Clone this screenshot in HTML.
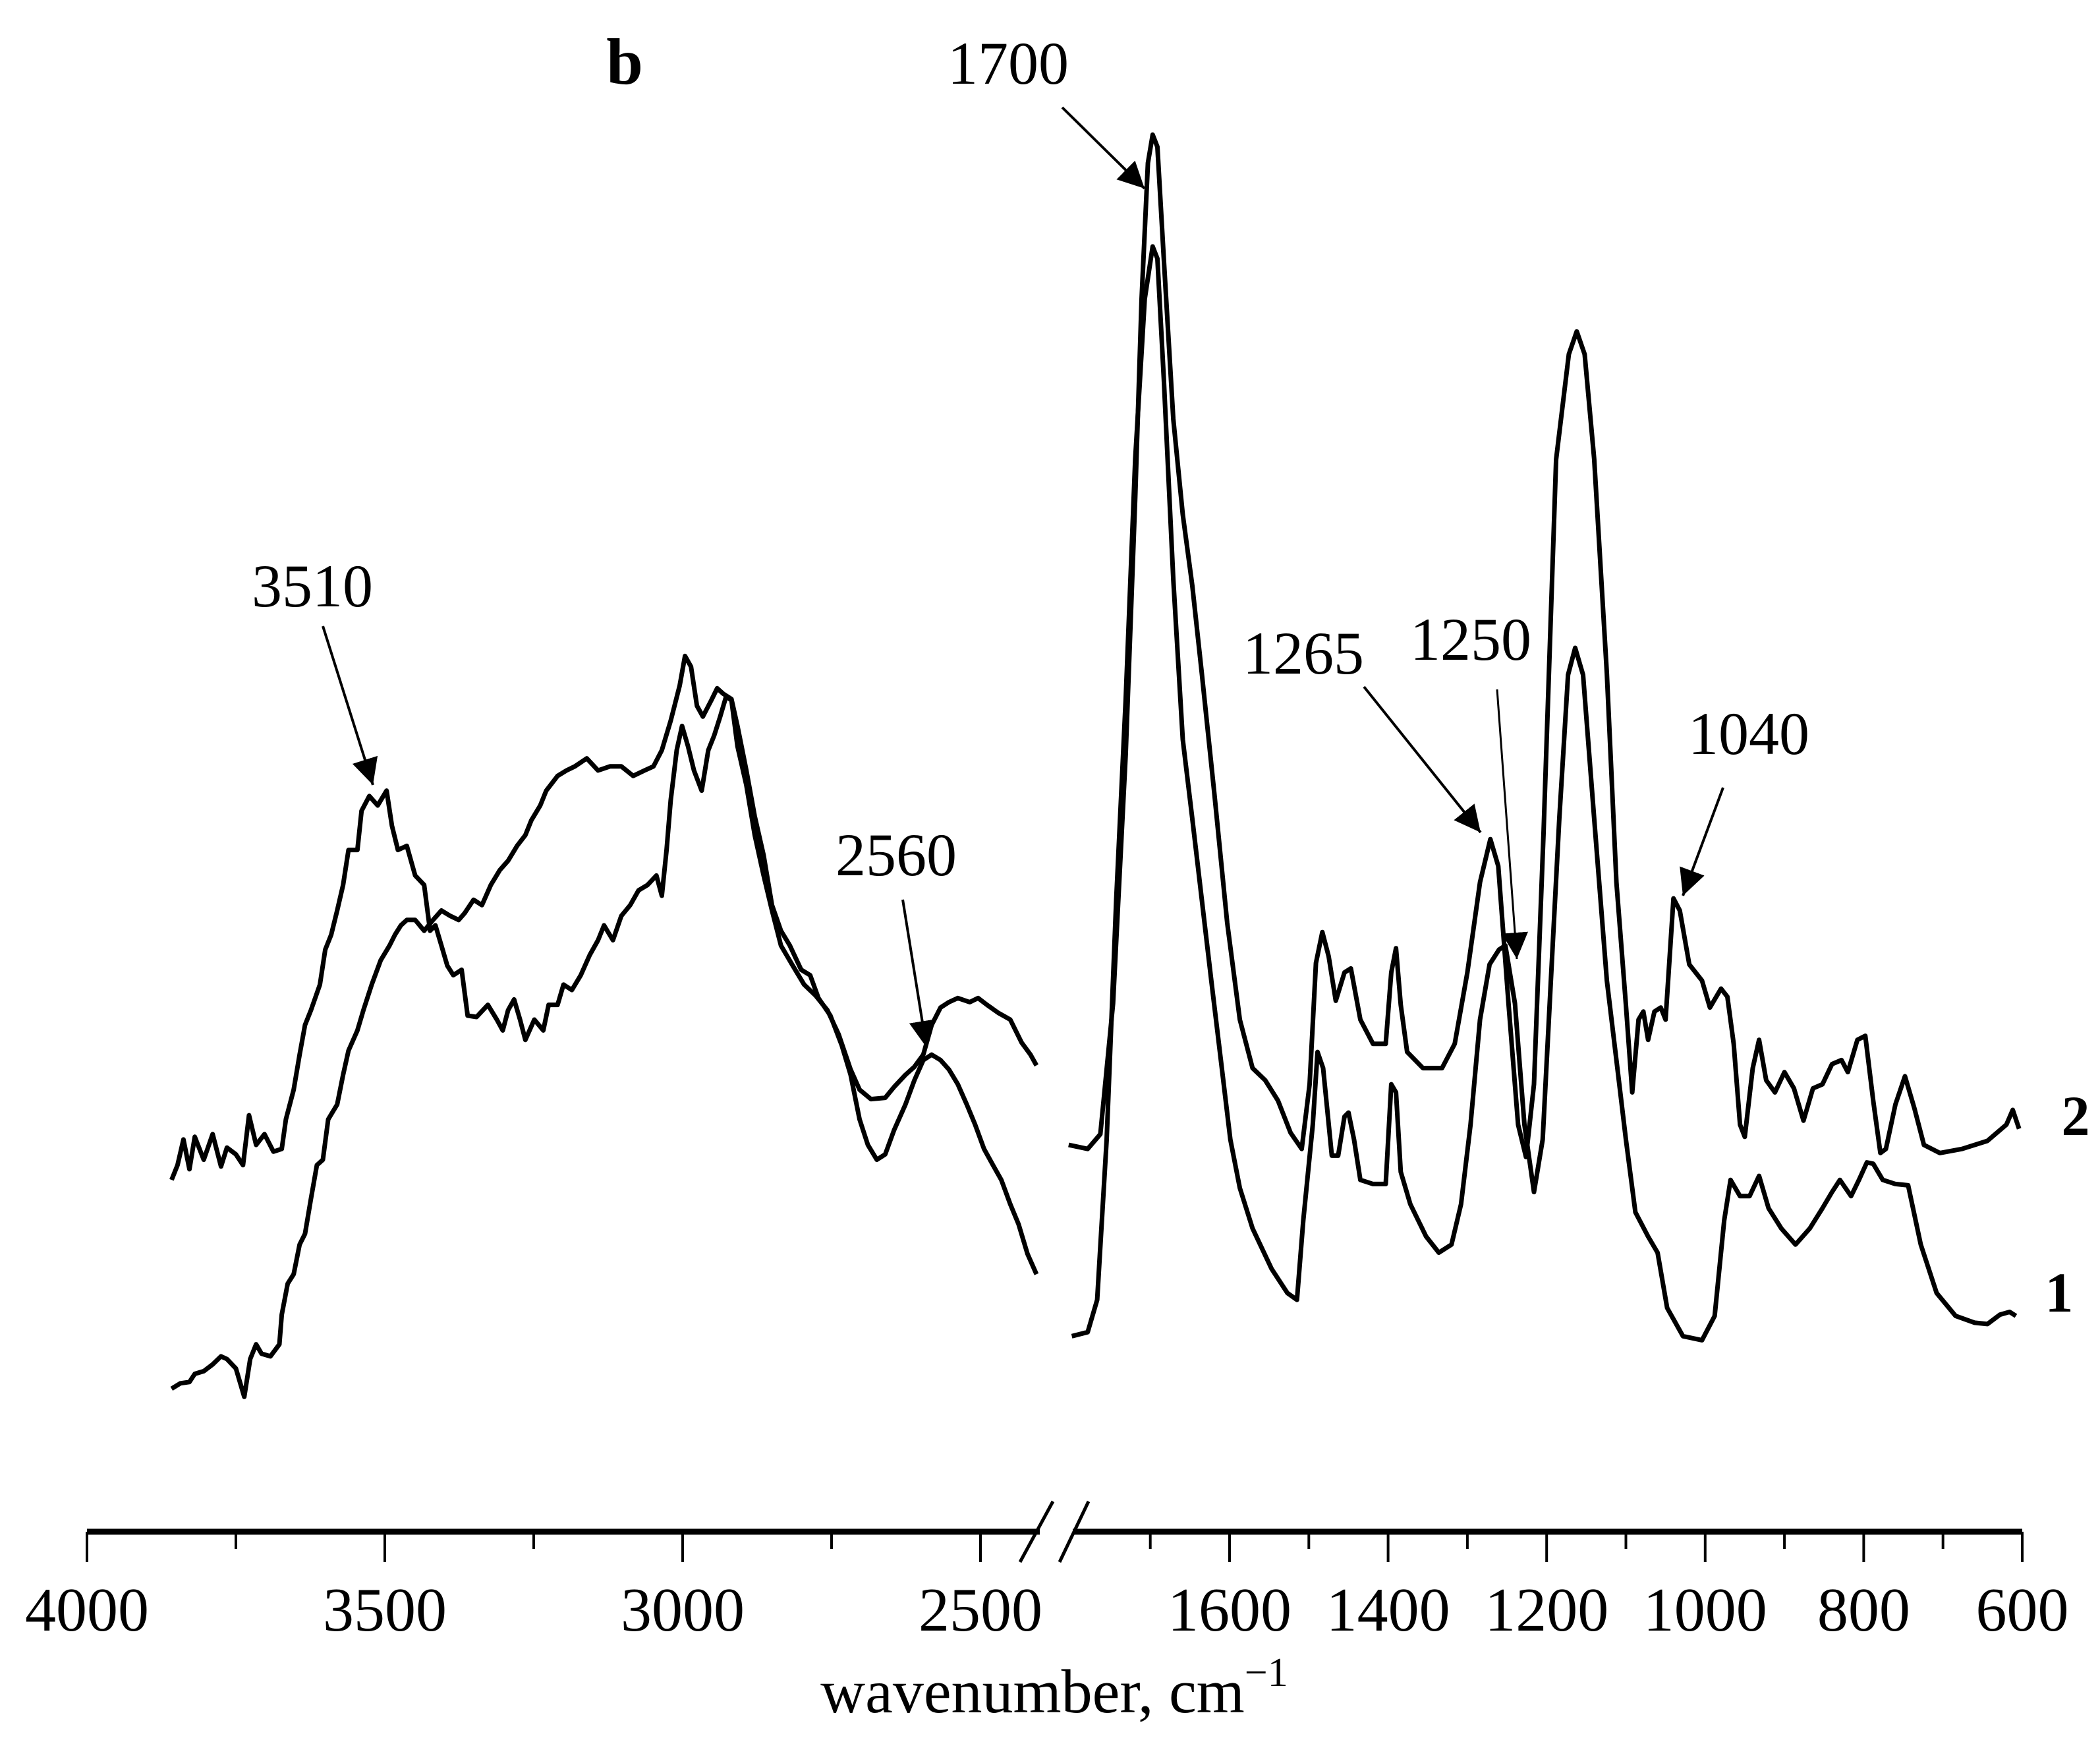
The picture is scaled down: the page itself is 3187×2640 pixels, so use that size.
<!DOCTYPE html>
<html><head><meta charset="utf-8"><style>
html,body{margin:0;padding:0;background:#fff;}
svg{display:block;font-family:"Liberation Serif",serif;}
</style></head><body>
<svg id="chart" width="3187" height="2640" viewBox="0 0 3187 2640" xmlns="http://www.w3.org/2000/svg">
<defs><marker id="ah" viewBox="0 0 10 10" refX="10" refY="5" markerWidth="40" markerHeight="40" markerUnits="userSpaceOnUse" orient="auto"><path d="M0,0 L10,5 L0,10 z" fill="#000"/></marker></defs>
<rect width="3187" height="2640" fill="#fff"/>
<g id="axis"></g>
<g id="curves"></g>
<g id="ann"></g>
<text x="948" y="127" font-size="100" font-weight="bold" text-anchor="middle">b</text>
<text x="3150" y="1722" font-size="86" font-weight="bold" text-anchor="middle">2</text>
<text x="3125" y="1990" font-size="86" font-weight="bold" text-anchor="middle">1</text>
<text x="1600" y="2598" font-size="94" text-anchor="middle">wavenumber, cm<tspan dy="-40" font-size="62">−1</tspan></text>
</svg>
<script>
// ---- data ----
const leftTicks = [4000,3500,3000,2500];
const leftMinor = [3750,3250,2750];
const rightTicks = [1600,1400,1200,1000,800,600];
const rightMinor = [1700,1500,1300,1100,900,700];

const wL2 = [3858,3848,3838,3828,3819,3804,3789,3775,3765,3750,3738,3728,3716,3702,3687,3673,3666,3653,3643,3634,3624,3609,3600,3590,3580,3570,3561,3546,3539,3526,3512,3497,3488,3478,3463,3449,3434,3424,3415,3405,3395,3385,3371,3361,3346,3327,3312,3302,3293,3283,3273,3264,3249,3234,3225,3210,3200,3186,3171,3156,3142,3132,3117,3103,3088,3074,3059,3044,3035,3027,3020,3010,3001,2991,2981,2968,2957,2947,2937,2927,2918,2908,2893,2879,2864,2850,2835,2815,2796,2777,2757,2738,2718,2703,2684,2660,2645,2626,2611,2596,2582,2567,2553,2538,2518,2504,2489,2470,2450,2431,2416,2406];
const aL2 = [.224,.235,.254,.232,.256,.239,.258,.234,.248,.243,.235,.272,.250,.258,.245,.247,.269,.291,.317,.339,.350,.369,.395,.406,.424,.443,.469,.469,.498,.509,.502,.513,.487,.469,.472,.450,.443,.409,.413,.398,.383,.376,.380,.346,.345,.354,.343,.335,.350,.358,.343,.328,.343,.335,.354,.354,.369,.365,.376,.391,.402,.413,.402,.420,.428,.439,.443,.450,.435,.469,.506,.543,.561,.546,.528,.513,.543,.554,.568,.583,.580,.546,.517,.480,.450,.424,.398,.383,.369,.361,.350,.332,.306,.291,.284,.285,.293,.302,.308,.317,.339,.352,.356,.359,.356,.359,.354,.348,.343,.326,.317,.309];

const wL1 = [3858,3843,3828,3819,3804,3789,3775,3765,3750,3736,3726,3716,3707,3692,3677,3673,3663,3653,3643,3634,3624,3614,3604,3595,3580,3570,3561,3546,3536,3522,3507,3492,3483,3473,3463,3449,3434,3419,3405,3390,3376,3366,3351,3337,3322,3307,3293,3278,3264,3254,3239,3229,3210,3195,3181,3161,3142,3122,3103,3083,3064,3049,3035,3020,3005,2996,2986,2976,2966,2952,2942,2932,2918,2908,2893,2879,2864,2850,2835,2820,2801,2786,2772,2752,2733,2718,2703,2689,2674,2660,2645,2626,2611,2596,2582,2567,2553,2538,2523,2509,2494,2479,2465,2450,2436,2421,2406];
const aL1 = [.069,.073,.074,.080,.082,.087,.093,.091,.084,.063,.091,.102,.095,.093,.102,.124,.147,.154,.176,.184,.210,.235,.239,.269,.280,.302,.320,.335,.350,.369,.387,.398,.406,.413,.417,.417,.409,.417,.424,.420,.417,.422,.432,.428,.443,.454,.461,.472,.480,.491,.502,.513,.524,.528,.531,.537,.528,.531,.531,.524,.528,.531,.543,.565,.591,.613,.605,.576,.568,.580,.589,.585,.581,.561,.528,.494,.465,.428,.409,.398,.380,.376,.359,.346,.324,.302,.269,.250,.239,.243,.261,.280,.298,.313,.317,.313,.306,.295,.280,.265,.247,.235,.224,.206,.191,.169,.154];

const wR2 = [1803,1779,1763,1747,1731,1719,1711,1703,1697,1691,1683,1671,1659,1647,1635,1619,1603,1587,1571,1555,1539,1523,1509,1499,1491,1483,1475,1466,1455,1447,1435,1419,1403,1396,1390,1384,1376,1356,1332,1316,1300,1284,1271,1261,1248,1236,1226,1216,1204,1188,1172,1162,1152,1140,1124,1112,1100,1092,1084,1078,1072,1064,1056,1050,1040,1032,1020,1004,994,980,972,964,956,950,940,932,923,912,900,888,876,864,852,840,828,820,808,798,788,779,772,760,748,736,724,704,676,644,620,612,604];
const aR2 = [.250,.247,.258,.355,.540,.730,.878,.979,1.000,.991,.908,.789,.718,.665,.600,.510,.415,.343,.307,.298,.283,.259,.247,.295,.385,.408,.390,.357,.378,.381,.343,.325,.325,.378,.396,.354,.319,.307,.307,.325,.378,.445,.477,.457,.354,.265,.241,.295,.480,.759,.837,.854,.837,.759,.600,.445,.354,.289,.343,.349,.328,.349,.352,.343,.433,.424,.384,.372,.352,.366,.360,.325,.265,.256,.307,.328,.298,.289,.304,.292,.268,.292,.295,.310,.313,.304,.328,.331,.283,.244,.247,.280,.301,.277,.250,.244,.247,.253,.265,.276,.262];

const wR1 = [1799,1779,1767,1755,1743,1731,1719,1707,1697,1691,1683,1671,1659,1647,1635,1623,1611,1599,1587,1571,1547,1527,1515,1507,1495,1489,1482,1471,1463,1455,1450,1443,1435,1419,1403,1396,1390,1384,1372,1352,1336,1320,1308,1296,1284,1272,1260,1252,1240,1228,1216,1205,1192,1184,1173,1164,1154,1140,1124,1112,1100,1088,1072,1060,1048,1028,1004,988,976,968,956,944,932,920,904,886,868,852,840,830,816,806,796,788,776,760,744,728,708,684,660,644,628,616,608];
const aR1 = [.108,.111,.135,.254,.432,.581,.759,.878,.917,.908,.819,.670,.551,.492,.432,.372,.313,.254,.218,.188,.158,.140,.135,.194,.265,.319,.307,.242,.242,.271,.274,.254,.224,.221,.221,.295,.289,.230,.206,.182,.170,.176,.206,.265,.343,.384,.395,.398,.355,.265,.215,.254,.402,.492,.599,.619,.599,.492,.372,.313,.254,.200,.182,.170,.129,.108,.105,.123,.194,.224,.212,.212,.227,.203,.188,.176,.188,.203,.215,.224,.212,.224,.237,.236,.224,.221,.220,.176,.140,.123,.118,.117,.124,.126,.123];

// ---- scales ----
function xLeft(w){return 132 + (4000 - w) * 0.904;}
function xRight(w){return 1866 + (1600 - w) * 1.203;}
function yS(a){return 2248 - a * 2043.6;}

const NS = "http://www.w3.org/2000/svg";
function mk(tag, attrs, parent){const e=document.createElementNS(NS,tag);for(const k in attrs)e.setAttribute(k,attrs[k]);parent.appendChild(e);return e;}

const axis = document.getElementById('axis');
const AY = 2324;
let l1 = mk('line',{x1:132,y1:AY,x2:1578,y2:AY,stroke:'#000','stroke-width':9},axis);


let l2 = mk('line',{x1:1628,y1:AY,x2:3069,y2:AY,stroke:'#000','stroke-width':9},axis);


let b1 = mk('line',{x1:1598,y1:2278,x2:1548,y2:2370,stroke:'#000','stroke-width':5},axis);


let b2 = mk('line',{x1:1652,y1:2278,x2:1608,y2:2370,stroke:'#000','stroke-width':5},axis);



function tick(x, major, label){
  const t = mk('line',{x1:x,y1:AY,x2:x,y2:major?2370:2350,stroke:'#000','stroke-width':4},axis);
  
  
  if(label!==undefined){
    const tx = mk('text',{x:x,y:2474,'font-size':94,'text-anchor':'middle'},axis);
    tx.textContent = label;
    
    
  }
}
leftTicks.forEach(w=>tick(xLeft(w),true,String(w)));
leftMinor.forEach(w=>tick(xLeft(w),false));
rightTicks.forEach(w=>tick(xRight(w),true,String(w)));
rightMinor.forEach(w=>tick(xRight(w),false));

const curves = document.getElementById('curves');
function draw(ws, as, xf, name){
  let d='';
  for(let i=0;i<ws.length && i<as.length;i++){d+=(i?'L':'M')+xf(ws[i]).toFixed(1)+','+yS(as[i]).toFixed(1);}
  const p = mk('path',{d:d,fill:'none',stroke:'#000','stroke-width':7,'stroke-linejoin':'round'},curves);
  
  
}
draw(wL2,aL2,xLeft,'spectrum-2-high-wavenumber');
draw(wL1,aL1,xLeft,'spectrum-1-high-wavenumber');
draw(wR2,aR2,xRight,'spectrum-2-fingerprint');
draw(wR1,aR1,xRight,'spectrum-1-fingerprint');

const ann = document.getElementById('ann');
function annot(txt, tx, ty, x1,y1,x2,y2, sw){
  const t = mk('text',{x:tx,y:ty,'font-size':92,'text-anchor':'middle'},ann);
  t.textContent = txt;
  
  
  const a = mk('line',{x1:x1,y1:y1,x2:x2,y2:y2,stroke:'#000','stroke-width':sw||4,'marker-end':'url(#ah)'},ann);
  
  
}
annot('1700',1530,127,1612,163,1737,286);
annot('3510',474,920,490,950,566,1191);
annot('2560',1360,1328,1370,1365,1406,1589);
annot('1265',1978,1022,2070,1042,2247,1263);
annot('1250',2232,1001,2272,1046,2302,1455,3);
annot('1040',2654,1144,2615,1195,2554,1359);
</script>
</body></html>
